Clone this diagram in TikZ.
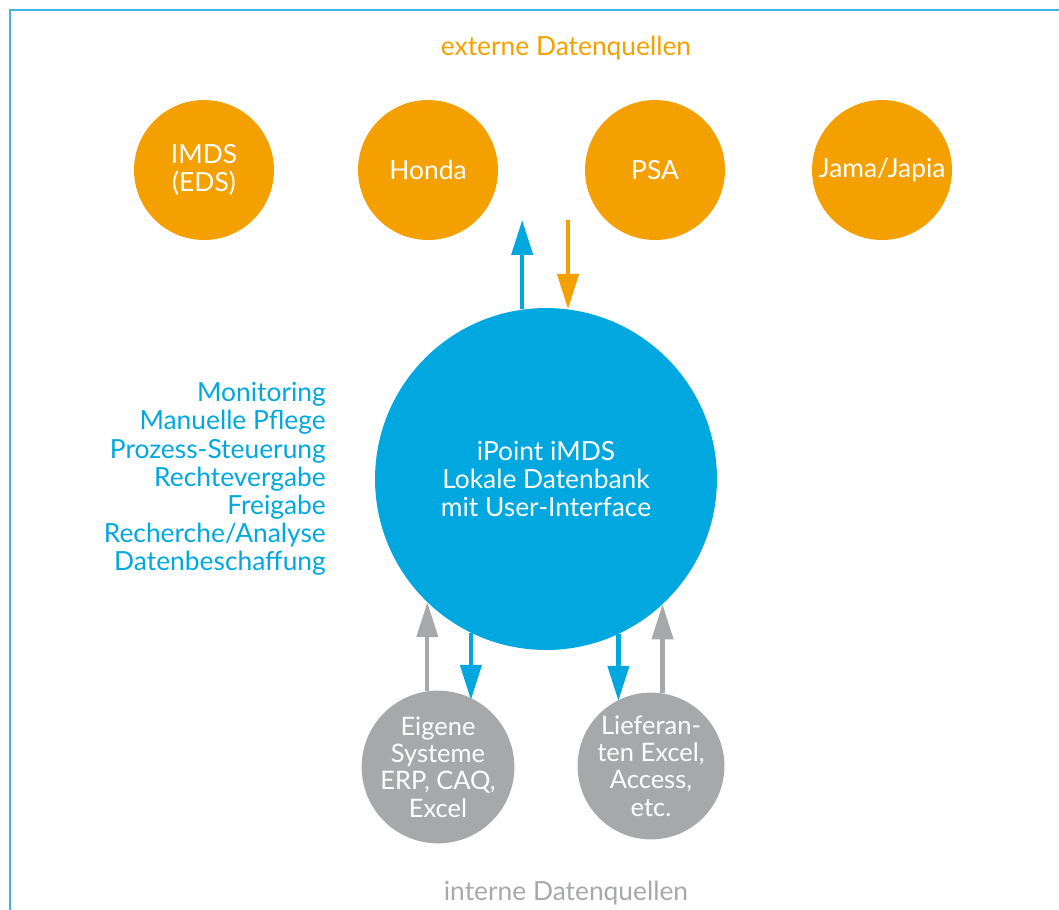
\documentclass[tikz,border=0pt]{standalone}
\usepackage{fontspec}
\setmainfont{Lato}
\usetikzlibrary{arrows.meta, positioning}
\definecolor{ipOrange}{HTML}{F4A000}
\definecolor{ipBlue}{HTML}{00A8DF}
\definecolor{ipGray}{HTML}{A7A8AA}
\definecolor{ipFrame}{HTML}{40B4E5}

\begin{document}
\begin{tikzpicture}[x=0.02cm, y=-0.02cm,
  quelle/.style={circle, fill=ipOrange, text=white, minimum size=2.8cm, inner sep=0pt, align=center, font=\fontsize{15}{16}\selectfont},
  hub/.style={circle, fill=ipBlue, text=white, minimum size=6.84cm, inner sep=0pt, align=center, font=\fontsize{15}{16}\selectfont},
  intern/.style={circle, fill=ipGray, text=white, minimum size=2.82cm, inner sep=0pt, align=center, font=\fontsize{14.5}{15.5}\selectfont},
  pfeil/.style={line width=2.4pt, -{Triangle[length=0.7cm, width=0.42cm]}}]
\useasboundingbox (0,0) rectangle (1059,910);
\draw[ipFrame, line width=1.2pt] (10,910) -- (10,10) -- (1059,10);
% externe Quellen
\node[text=ipOrange, font=\fontsize{15}{16}\selectfont] (ext) at (566,48) {externe Datenquellen};
\node[quelle] (imds) at (204,170) {IMDS\\(EDS)};
\node[quelle] (honda) at (428,170) {Honda};
\node[quelle] (psa) at (655,170) {PSA};
\node[quelle] (jama) at (882,170) {Jama/Japia};
% lokale Datenbank
\node[hub] (hub) at (546,479) {iPoint iMDS\\Lokale Datenbank\\mit User-Interface};
\node[text=ipBlue, align=right, anchor=east, font=\fontsize{15}{16}\selectfont] (funk) at (332,479)
  {Monitoring\\Manuelle Pflege\\Prozess-Steuerung\\Rechtevergabe\\Freigabe\\Recherche/Analyse\\Datenbeschaffung};
% interne Quellen
\node[intern] (eig) at (438,767) {Eigene\\Systeme\\ERP, CAQ,\\Excel};
\node[intern] (lief) at (651,766) {Lieferan-\\ten Excel,\\Access,\\etc.};
\node[text=ipGray, font=\fontsize{15}{16}\selectfont] (int) at (566,893) {interne Datenquellen};
% Pfeile
\coordinate (aus) at (521,220);
\coordinate (ein) at (568,220);
\draw[pfeil, ipBlue] (hub.98) -- (hub.98 |- aus);
\draw[pfeil, ipOrange] (ein) -- (ein |- hub.83);
\draw[pfeil, ipGray] (eig.98) -- (eig.98 |- hub.226);
\draw[pfeil, ipBlue] (hub.244) -- (hub.244 |- eig.61);
\draw[pfeil, ipBlue] (hub.295) -- (hub.295 |- lief.118);
\draw[pfeil, ipGray] (lief.81) -- (lief.81 |- hub.313);
\end{tikzpicture}
\end{document}
